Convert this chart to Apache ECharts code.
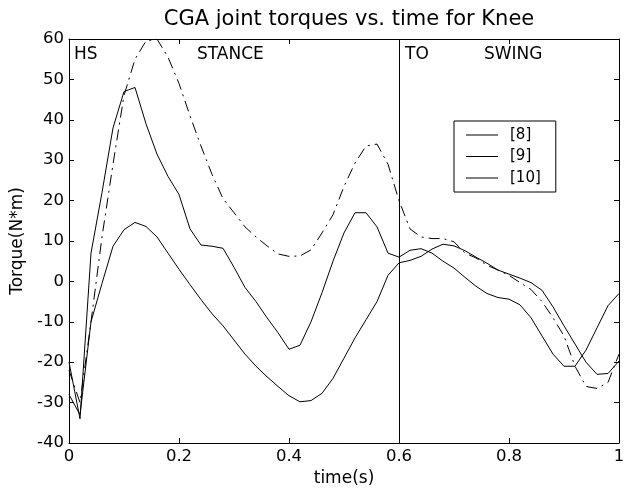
<!DOCTYPE html>
<html>
<head>
<meta charset="utf-8">
<script src="https://cdn.jsdelivr.net/npm/echarts@6/dist/echarts.min.js"></script>
<style>
html,body{margin:0;padding:0;background:#fff;}
#chart{width:629px;height:492px;}
</style>
</head>
<body>
<div id="chart"></div>
<script>
const titleText = 'CGA joint torques vs. time for Knee';
const xName = 'time(s)';
const yName = 'Torque(N*m)';
const seriesNames = ['[8]', '[9]', '[10]'];
const time = [0,0.02,0.04,0.06,0.08,0.10,0.12,0.14,0.16,0.18,0.20,0.22,0.24,0.26,0.28,0.30,0.32,0.34,0.36,0.38,0.40,0.42,0.44,0.46,0.48,0.50,0.52,0.54,0.56,0.58,0.60,0.62,0.64,0.66,0.68,0.70,0.72,0.74,0.76,0.78,0.80,0.82,0.84,0.86,0.88,0.90,0.92,0.94,0.96,0.98,1.00];
const torque8 = [-20,-34,7,22,38,47,48,39,31.5,26,21.5,13,9,8.7,8.2,3.5,-1.5,-5,-9,-12.7,-16.8,-15.8,-10,-2.8,5,12,17,17,13.5,7,6,7.7,8.1,7,5,3.3,1,-1.2,-3,-4,-4.4,-5.8,-9,-13.5,-18,-21,-21,-17,-11.5,-6,-3];
const torque9 = [-28,-33,-10,-0.5,8.7,12.8,14.6,13.6,11,7,3,-0.8,-4.5,-8,-11,-14.5,-18,-21,-23.6,-26,-28.3,-29.8,-29.5,-27.7,-24,-19,-14,-9.5,-5,1.5,4.6,5.2,6.2,8,9.2,8.8,7.6,6,4.5,2.8,1.8,0.8,-0.3,-2.2,-6.3,-11,-15.5,-20,-23,-22.8,-19.7];
const torque10 = [-22,-30,-10,11,29,46,55,59.5,60,55.5,49,41,33.5,26.5,20.5,17,13.5,11,8.8,6.8,6.2,6.3,7.8,12,16.5,23.5,29.3,33.5,34,29,20,13,11,10.6,10.6,9.8,7,5.8,4,2.8,1.5,-0.3,-2,-5,-9,-13.5,-21,-26,-26.5,-25,-18];
const phaseLine = [0.6];
const phaseLabels = ['HS', 'STANCE', 'TO', 'SWING'];
const xTicks = [0, 0.2, 0.4, 0.6, 0.8, 1];
const yTicks = [-40, -30, -20, -10, 0, 10, 20, 30, 40, 50, 60];

const FONT = '"DejaVu Sans", Arial, Helvetica, sans-serif';
const chart = echarts.init(document.getElementById('chart'), null, {renderer: 'canvas'});
const pairs = arr => time.map((t, i) => [t, arr[i]]);
const lineBase = {type: 'line', symbol: 'none', showSymbol: false, smooth: false, clip: true, z: 3};

const axisCommon = {
  axisLine: {show: true, onZero: false, lineStyle: {color: '#000', width: 1}},
  axisTick: {show: true, inside: true, length: 5, lineStyle: {color: '#000', width: 1}},
  splitLine: {show: false}
};

const option = {
  animation: false,
  backgroundColor: '#fff',
  title: {
    text: titleText, left: 344, top: 4, textAlign: 'center',
    textStyle: {fontFamily: FONT, fontSize: 21, fontWeight: 'normal', color: '#000'}
  },
  grid: {left: 69, right: 10, top: 39, bottom: 48, containLabel: false},
  legend: {
    orient: 'vertical', left: 454, top: 121,
    backgroundColor: '#fff', borderColor: '#000', borderWidth: 1,
    padding: [6.5, 15, 6.5, 12], itemGap: 6.5, itemWidth: 32, itemHeight: 1,
    icon: 'rect',
    textStyle: {fontFamily: FONT, fontSize: 15, color: '#000', padding: [0, 0, 0, 7]},
    data: seriesNames.map(n => ({name: n}))
  },
  xAxis: [
    Object.assign({type: 'value', min: xTicks[0], max: xTicks[xTicks.length-1], interval: 0.2, position: 'bottom',
      name: xName, nameLocation: 'middle', nameGap: 27,
      nameTextStyle: {fontFamily: FONT, fontSize: 17, color: '#000'},
      axisLabel: {color: '#000', fontFamily: FONT, fontSize: 16.5, margin: 5, formatter: v => String(+v.toFixed(1))}}, axisCommon),
    Object.assign({type: 'value', min: xTicks[0], max: xTicks[xTicks.length-1], interval: 0.2, position: 'top',
      axisLabel: {show: false}}, axisCommon)
  ],
  yAxis: [
    Object.assign({type: 'value', min: yTicks[0], max: yTicks[yTicks.length-1], interval: 10, position: 'left',
      name: yName, nameLocation: 'middle', nameGap: 38, nameRotate: 90,
      nameTextStyle: {fontFamily: FONT, fontSize: 17, color: '#000'},
      axisLabel: {color: '#000', fontFamily: FONT, fontSize: 16.5, margin: 5}}, axisCommon),
    Object.assign({type: 'value', min: yTicks[0], max: yTicks[yTicks.length-1], interval: 10, position: 'right',
      axisLabel: {show: false}}, axisCommon)
  ],
  series: [
    Object.assign({}, lineBase, {name: seriesNames[0], data: pairs(torque8),
      lineStyle: {color: '#000', width: 1, type: 'solid'}, itemStyle: {color: '#000'},
      markLine: {silent: true, symbol: 'none', label: {show: false},
        lineStyle: {color: '#000', width: 1, type: 'solid'},
        data: phaseLine.map(x => ({xAxis: x}))}}),
    Object.assign({}, lineBase, {name: seriesNames[1], data: pairs(torque9),
      lineStyle: {color: '#000', width: 1, type: 'solid'}, itemStyle: {color: '#000'}}),
    Object.assign({}, lineBase, {name: seriesNames[2], data: pairs(torque10),
      lineStyle: {color: '#000', width: 1, type: [11, 5, 2, 5]}, itemStyle: {color: '#000'}})
  ],
  graphic: [
    {type: 'text', left: 74, top: 46, style: {text: phaseLabels[0], font: '17px ' + FONT, fill: '#000'}},
    {type: 'text', left: 197, top: 46, style: {text: phaseLabels[1], font: '17px ' + FONT, fill: '#000'}},
    {type: 'text', left: 405, top: 46, style: {text: phaseLabels[2], font: '17px ' + FONT, fill: '#000'}},
    {type: 'text', left: 484, top: 46, style: {text: phaseLabels[3], font: '17px ' + FONT, fill: '#000'}}
  ]
};
chart.setOption(option);
</script>
</body>
</html>
